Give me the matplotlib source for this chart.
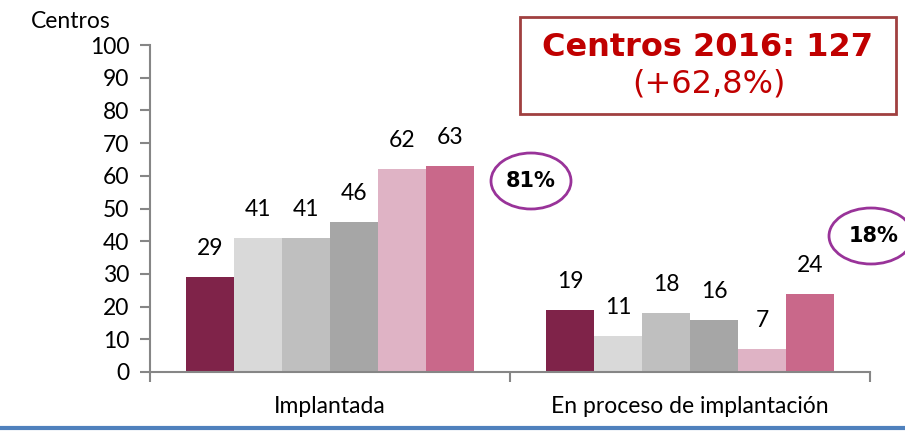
import matplotlib
matplotlib.use("Agg")
import matplotlib.pyplot as plt
from matplotlib.patches import Ellipse, Rectangle
import numpy as np

categories = ["Implantada", "En proceso de implantación"]
series_names = ["S1", "S2", "S3", "S4", "S5", "S6"]
values = [
    [29, 19],
    [41, 11],
    [41, 18],
    [46, 16],
    [62, 7],
    [63, 24],
]
colors = ["#7F2349", "#D9D9D9", "#BFBFBF", "#A6A6A6", "#DFB3C5", "#C9688A"]
yticks = list(range(0, 101, 10))
shares = ["81%", "18%"]

plt.rcParams['font.family'] = ['Lato', 'DejaVu Sans']
FS = 16.5

fig = plt.figure(figsize=(9.05, 4.32), dpi=100)
ax = fig.add_axes([150/905, 1-372/432, 720/905, 327/432])

n = len(values)
bw = 0.8 / n
x = np.arange(len(categories))
for i, (vals, c) in enumerate(zip(values, colors)):
    pos = x - 0.4 + bw*(i+0.5)
    ax.bar(pos, vals, width=bw, color=c, edgecolor='none')
    for p, v in zip(pos, vals):
        ax.text(p, v + 5.5, str(v), ha='center', va='bottom', fontsize=FS)

ax.set_xlim(-0.5, 1.5)
ax.set_ylim(0, 100)
ax.set_yticks(yticks)
ax.set_xticks([-0.5, 0.5, 1.5], minor=False)
ax.set_xticklabels([])
ax.set_xticks(x, minor=True)
ax.set_xticklabels(categories, minor=True, fontsize=FS)
ax.tick_params(axis='x', which='minor', length=0, pad=17)
ax.tick_params(axis='x', which='major', length=7, color='#868686', width=1.5, direction='out')
ax.tick_params(axis='y', length=7, color='#868686', width=1.5, labelsize=FS, pad=8)
for s in ['top', 'right']:
    ax.spines[s].set_visible(False)
for s in ['left', 'bottom']:
    ax.spines[s].set_color('#868686')
    ax.spines[s].set_linewidth(1.5)

fig.text(31/905, 1-21/432, "Centros", fontsize=FS, ha='left', va='center')

# summary box
fig.patches.append(Rectangle((520/905, 1-114/432), 376/905, 97/432, transform=fig.transFigure,
                             fill=False, edgecolor='#A04040', linewidth=2))
fig.text(708/905, 1-48/432, "Centros 2016: 127", fontsize=23, fontweight='bold',
         color='#C00000', ha='center', va='center', family='DejaVu Sans')
fig.text(709/905, 1-84/432, "(+62,8%)", fontsize=23, color='#C00000',
         ha='center', va='center', family='DejaVu Sans')

# ellipses
for (cx, cy, w, h), t in zip([(531, 181, 80, 56), (871, 236, 84, 56)], shares):
    fig.patches.append(Ellipse((cx/905, 1-cy/432), w/905, h/432, transform=fig.transFigure,
                               fill=False, edgecolor='#993399', linewidth=2))
    fig.text(cx/905 + (3/905 if t == "18%" else 0), 1-cy/432, t, fontsize=15, fontweight='bold',
             ha='center', va='center', family='DejaVu Sans')

# bottom blue rule
fig.add_artist(plt.Line2D([0, 1], [1-428/432, 1-428/432], transform=fig.transFigure,
                          color='#4F81BD', linewidth=3))

fig.savefig("out.png", dpi=100)
